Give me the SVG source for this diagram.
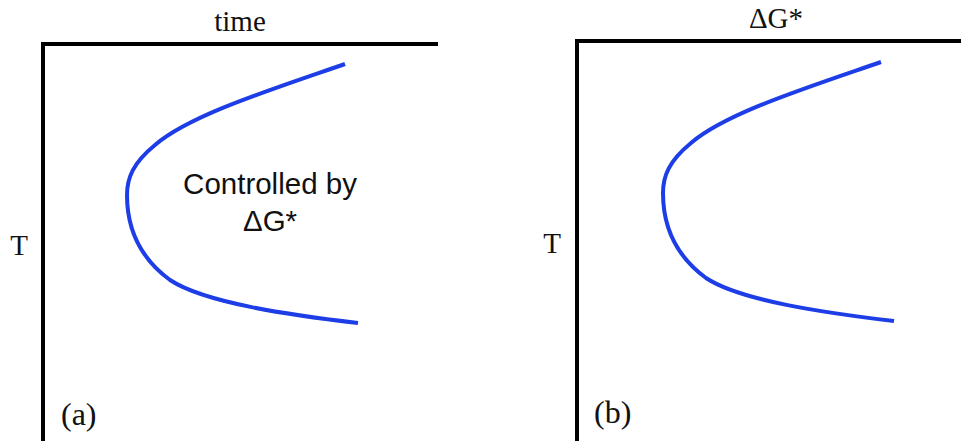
<svg xmlns="http://www.w3.org/2000/svg" width="961" height="441" viewBox="0 0 961 441">
<defs>
<style>
.axis{fill:none;stroke:#000;stroke-width:4}
.curve{fill:none;stroke:#1d3de6;stroke-width:4;stroke-linecap:butt}
.serif{font-family:"Liberation Serif","Times New Roman",serif;font-size:29px;fill:#111}
.lbl{font-size:32px}
.sans{font-family:"Liberation Sans",Arial,sans-serif;font-size:29.5px;fill:#111}
</style>
<path id="hook" d="M345,64 C270,90 190,115 155,145 C133,163 127,178 127,195 C127,230 140,258 170,280 C205,303 290,315 358,323"/>
</defs>
<rect width="961" height="441" fill="#fff"/>
<g id="panel-a">
<path class="axis" d="M438,44 H43 V441"/>
<text class="serif" x="240" y="31" text-anchor="middle">time</text>
<text class="serif" x="19" y="255" text-anchor="middle">T</text>
<text class="serif lbl" x="61" y="425">(a)</text>
<use href="#hook" class="curve"/>
<text class="sans" x="270" y="194" text-anchor="middle">Controlled by</text>
<text class="sans" x="270" y="231" text-anchor="middle">ΔG*</text>
</g>
<g id="panel-b">
<path class="axis" d="M961,41 H577 V441"/>
<text class="serif" x="776" y="28" text-anchor="middle">ΔG*</text>
<text class="serif" x="552" y="253" text-anchor="middle">T</text>
<text class="serif lbl" x="594" y="423">(b)</text>
<use href="#hook" class="curve" transform="translate(536,-2)"/>
</g>
</svg>
